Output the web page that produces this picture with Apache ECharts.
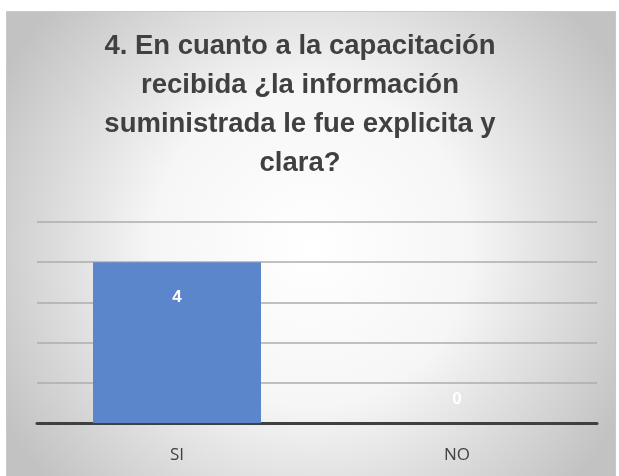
<!DOCTYPE html>
<html>
<head>
<meta charset="utf-8">
<script src="https://cdn.jsdelivr.net/npm/echarts@6/dist/echarts.min.js"></script>
<style>
  html, body { margin: 0; padding: 0; background: #fff; }
  #chart { width: 619px; height: 476px; }
</style>
</head>
<body>
<div id="chart"></div>
<script>
const categories = ['SI', 'NO'];
const values = [4, 0];
const titleLines = [
  '4. En cuanto a la capacitación',
  'recibida ¿la información',
  'suministrada le fue explicita y',
  'clara?'
];

const chart = echarts.init(document.getElementById('chart'));

// etiqueta dentro de la barra; si vale 0 va encima del eje
const barData = values.map(v => ({
  value: v,
  label: v > 0
    ? { position: 'insideTop', distance: 27 }
    : { position: 'top', distance: 15 }
}));

chart.setOption({
  animation: false,
  graphic: [{
    type: 'rect',
    z: -10,
    shape: { x: 6.5, y: 11.5, width: 609, height: 470 },
    style: {
      fill: new echarts.graphic.RadialGradient(0.5, 0.5, 0.75, [
        { offset: 0, color: '#ffffff' },
        { offset: 0.45, color: '#f6f6f6' },
        { offset: 1, color: '#c2c2c2' }
      ]),
      stroke: '#c8c8c8',
      lineWidth: 1
    }
  }],
  title: {
    text: titleLines.join('\n'),
    left: 295,
    top: 22,
    textAlign: 'center',
    textStyle: {
      fontFamily: "'Liberation Sans Narrow', 'Liberation Sans', sans-serif",
      fontWeight: 'bold',
      fontSize: 27.5,
      lineHeight: 39,
      color: '#404040'
    }
  },
  grid: { left: 37, right: 22, top: 222, bottom: 53 },
  xAxis: {
    type: 'category',
    data: categories,
    axisTick: { show: false },
    axisLine: { lineStyle: { color: '#404040', width: 3 } },
    axisLabel: {
      fontFamily: "'Open Sans', sans-serif",
      fontSize: 17,
      color: '#404040',
      margin: 24
    }
  },
  yAxis: {
    type: 'value',
    min: 0,
    max: 5,
    interval: 1,
    axisLabel: { show: false },
    axisLine: { show: false },
    axisTick: { show: false },
    splitLine: { lineStyle: { color: '#adadad', width: 1.5 } }
  },
  series: [{
    type: 'bar',
    barWidth: '60%',
    data: barData,
    itemStyle: {
      color: '#5b86cb'
    },
    label: {
      show: true,
      color: '#ffffff',
      fontFamily: "'Liberation Sans', sans-serif",
      fontWeight: 'bold',
      fontSize: 17
    }
  }]
});
</script>
</body>
</html>
